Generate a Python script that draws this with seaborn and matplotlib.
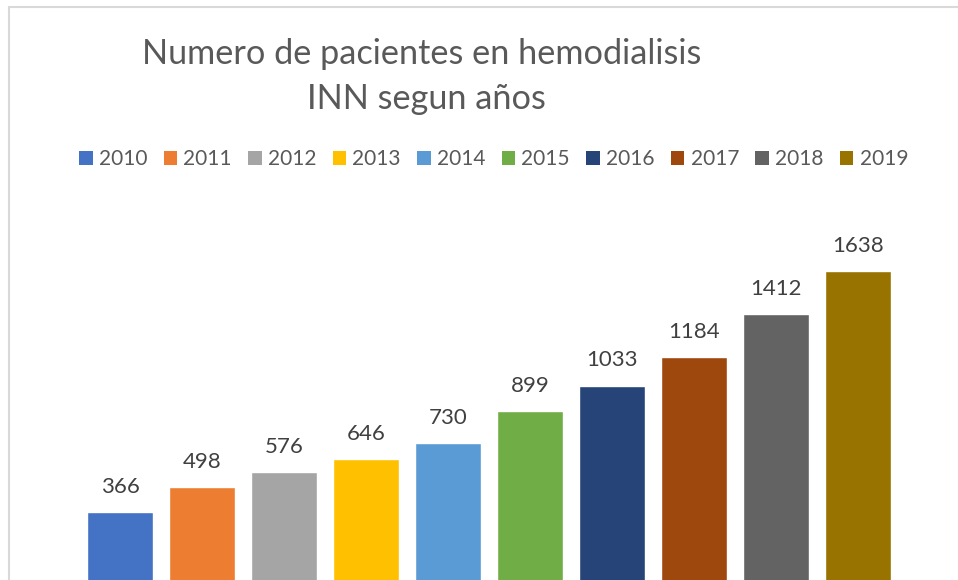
import matplotlib
matplotlib.use("Agg")
import matplotlib.pyplot as plt
import seaborn as sns
import pandas as pd
from matplotlib.patches import Patch
from matplotlib.lines import Line2D

# Data
years = ['2010', '2011', '2012', '2013', '2014', '2015', '2016', '2017', '2018', '2019']
patients = [366, 498, 576, 646, 730, 899, 1033, 1184, 1412, 1638]
colors = ['#4472C4', '#ED7D31', '#A5A5A5', '#FFC000', '#5B9BD5',
          '#70AD47', '#264478', '#9E480E', '#636363', '#997300']

title_lines = ['Numero de pacientes en hemodialisis', 'INN segun años']


def main() -> None:
    sns.set_theme(style='white')
    plt.rcParams['font.family'] = ['Lato', 'DejaVu Sans']

    data = pd.DataFrame({'year': years, 'patients': patients})

    W, H = 958, 580
    fig = plt.figure(figsize=(W / 100, H / 100), dpi=100)
    ax = fig.add_axes([79 / W, (H - 581.4) / H, 820 / W, 341.1 / H])

    sns.barplot(data=data, x='year', y='patients', hue='year', palette=colors,
                width=0.805, saturation=1, legend=False, ax=ax)
    ax.set_xlim(-0.5, 9.5)
    ax.set_ylim(0, 1800)
    for c in ax.containers:
        ax.bar_label(c, padding=11, fontsize=16, color='#404040', clip_on=False)
    ax.axis('off')

    # Title
    fig.text(422 / W, 1 - 64 / H, title_lines[0], ha='center', va='baseline',
             fontsize=24.7, color='#595959')
    fig.text(426 / W, 1 - 109 / H, title_lines[1], ha='center', va='baseline',
             fontsize=24.7, color='#595959')

    # Legend
    handles = [Patch(facecolor=c, edgecolor='none') for c in colors]
    fig.legend(handles, years, ncol=10, loc='center',
               bbox_to_anchor=(493.5 / W, 1 - 159 / H), frameon=False,
               fontsize=15, labelcolor='#595959', handlelength=0.65,
               handleheight=0.65, handletextpad=0.3, columnspacing=0.78)

    # Chart area border (left and top visible)
    border = '#D9D9D9'
    fig.add_artist(Line2D([8.5 / W, 8.5 / W], [0, 1 - 6.5 / H], color=border, lw=1.5,
                          transform=fig.transFigure))
    fig.add_artist(Line2D([8.5 / W, 1], [1 - 6.5 / H, 1 - 6.5 / H], color=border, lw=1.5,
                          transform=fig.transFigure))

    fig.savefig('out.png', dpi=100)


if __name__ == "__main__":
    main()
